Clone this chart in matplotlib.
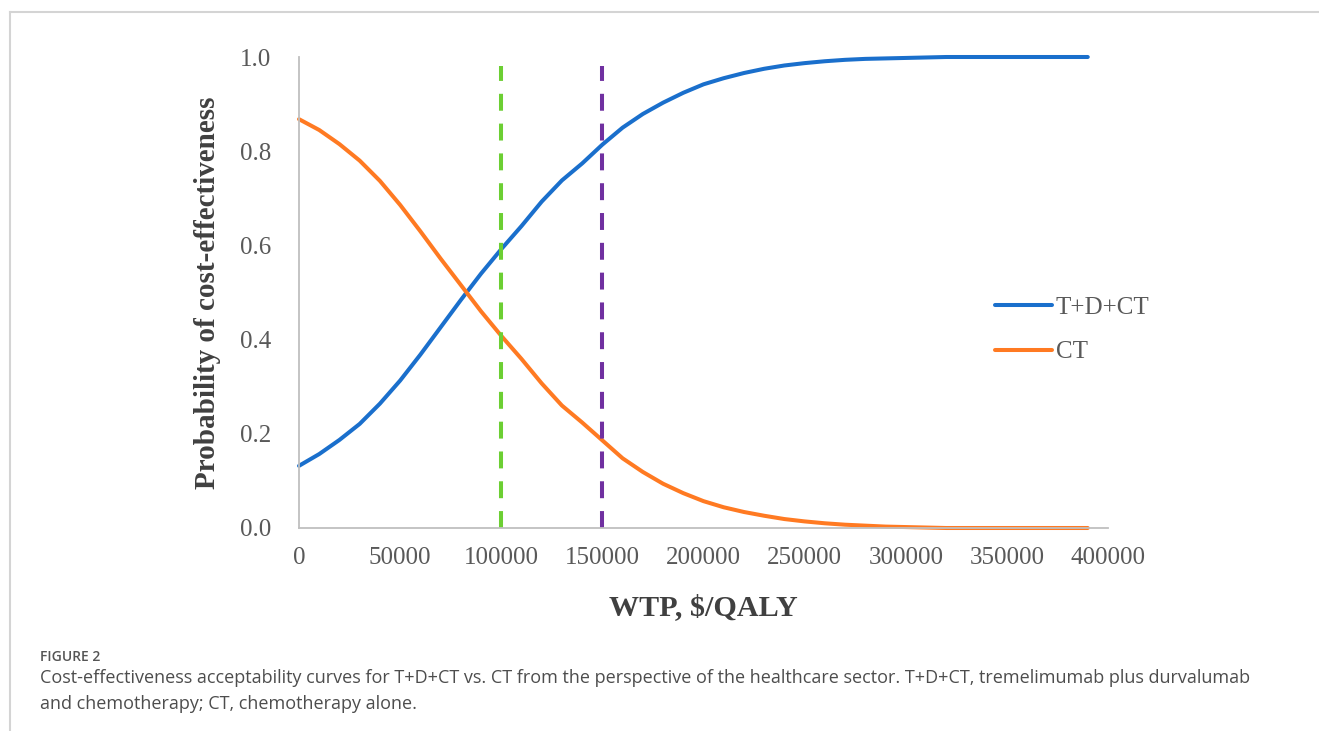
import matplotlib
matplotlib.use("Agg")
import matplotlib.pyplot as plt
from matplotlib.lines import Line2D

# ---- data ----
wtp = [0, 10000, 20000, 30000, 40000, 50000, 60000, 70000, 80000, 90000,
       100000, 110000, 120000, 130000, 140000, 150000, 160000, 170000, 180000, 190000,
       200000, 210000, 220000, 230000, 240000, 250000, 260000, 270000, 280000, 290000,
       300000, 310000, 320000, 330000, 340000, 350000, 360000, 370000, 380000, 390000]
tdct = [0.132, 0.157, 0.187, 0.221, 0.264, 0.313, 0.368, 0.426, 0.484, 0.540,
        0.592, 0.641, 0.693, 0.738, 0.774, 0.814, 0.850, 0.879, 0.903, 0.924,
        0.942, 0.955, 0.966, 0.975, 0.982, 0.987, 0.991, 0.994, 0.996, 0.997,
        0.998, 0.999, 1.000, 1.000, 1.000, 1.000, 1.000, 1.000, 1.000, 1.000]
ct = [0.868, 0.845, 0.815, 0.780, 0.737, 0.686, 0.630, 0.572, 0.516, 0.460,
      0.408, 0.359, 0.307, 0.260, 0.224, 0.186, 0.148, 0.119, 0.094, 0.074,
      0.057, 0.044, 0.034, 0.026, 0.019, 0.014, 0.010, 0.007, 0.005, 0.003,
      0.002, 0.001, 0.000, 0.000, 0.000, 0.000, 0.000, 0.000, 0.000, 0.000]
thresholds = [100000, 150000]
threshold_top = 0.98
series_labels = ["T+D+CT", "CT"]
xticks = [0, 50000, 100000, 150000, 200000, 250000, 300000, 350000, 400000]
yticks = [0.0, 0.2, 0.4, 0.6, 0.8, 1.0]

W, H = 1319, 731
fig = plt.figure(figsize=(W / 100, H / 100), dpi=100)
ax = fig.add_axes([299 / W, 1 - 528 / H, (1108 - 299) / W, (528 - 57) / H])

BLUE = "#1a6fcc"
ORANGE = "#ff7a22"
GREEN = "#6ccf33"
PURPLE = "#7030a0"
GRAY_TXT = "#595959"

ax.plot(wtp, tdct, color=BLUE, lw=2.9, label=series_labels[0], clip_on=False,
        solid_capstyle="round", solid_joinstyle="round")
ax.plot(wtp, ct, color=ORANGE, lw=2.9, label=series_labels[1], clip_on=False,
        solid_capstyle="round", solid_joinstyle="round")
ax.vlines(thresholds[0], 0, threshold_top, color=GREEN, lw=2.9,
          linestyles=(0, (4.2, 3.2)))
ax.vlines(thresholds[1], 0, threshold_top, color=PURPLE, lw=2.9,
          linestyles=(0, (4.2, 3.2)))

ax.set_xlim(0, 400000)
ax.set_ylim(0, 1.0)
ax.set_xticks(xticks)
ax.set_xticklabels([str(v) for v in xticks])
ax.set_yticks(yticks)
ax.set_yticklabels([f"{v:.1f}" for v in yticks])

serif = "Liberation Serif"
for lab in ax.get_xticklabels() + ax.get_yticklabels():
    lab.set_fontfamily(serif)
    lab.set_fontsize(18)
    lab.set_color(GRAY_TXT)
ax.tick_params(axis="both", length=0)
ax.tick_params(axis="x", pad=14)
ax.tick_params(axis="y", pad=20)

for s in ["top", "right"]:
    ax.spines[s].set_visible(False)
for s in ["left", "bottom"]:
    ax.spines[s].set_color("#bfbfbf")
    ax.spines[s].set_linewidth(1.3)

ax.set_ylabel("Probability of cost-effectiveness", fontfamily=serif, fontsize=21,
              fontweight="bold", color="#404040", labelpad=14)
ax.set_xlabel("WTP, $/QALY", fontfamily=serif, fontsize=21.7, fontweight="bold",
              color="#404040", labelpad=18)

leg = ax.legend(loc="center left", bbox_to_anchor=(972 / W, 1 - 330 / H),
                bbox_transform=fig.transFigure, frameon=False,
                prop={"family": serif, "size": 18}, handlelength=2.3,
                handletextpad=0.15, labelspacing=0.87)
for t in leg.get_texts():
    t.set_color(GRAY_TXT)

# page frame lines
fig.add_artist(Line2D([10 / W, 1.0], [1 - 12 / H, 1 - 12 / H], color="#d4d4d4", lw=1.5))
fig.add_artist(Line2D([10 / W, 10 / W], [0, 1 - 12 / H], color="#d4d4d4", lw=1.5))

# caption
fig.text(40 / W, 1 - 657 / H, "FIGURE 2", fontfamily="Open Sans", fontsize=10,
         fontweight="semibold", color="#555555", va="center")
fig.text(40 / W, 1 - 678 / H,
         "Cost-effectiveness acceptability curves for T+D+CT vs. CT from the perspective of the healthcare sector. T+D+CT, tremelimumab plus durvalumab",
         fontfamily="Open Sans", fontsize=13, color="#4d4d4d", va="center")
fig.text(40 / W, 1 - 704 / H, "and chemotherapy; CT, chemotherapy alone.",
         fontfamily="Open Sans", fontsize=13, color="#4d4d4d", va="center")

fig.savefig("out.png", dpi=100)
